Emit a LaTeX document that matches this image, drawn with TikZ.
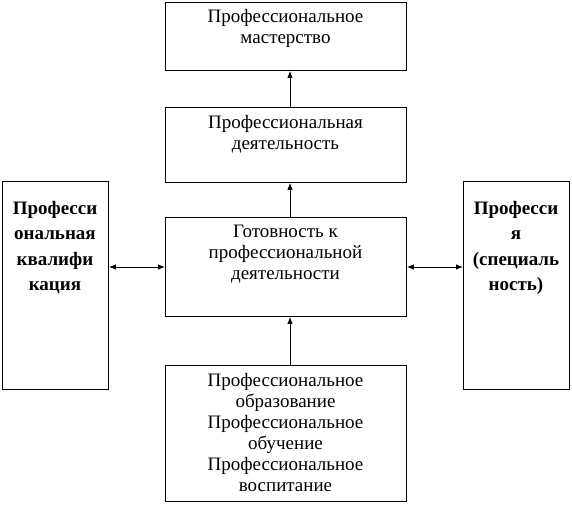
\documentclass[tikz,border=0pt]{standalone}
\usepackage{fontspec}
\setmainfont{Liberation Serif}
\usetikzlibrary{arrows.meta}
\begin{document}
\begin{tikzpicture}[x=1pt,y=-1pt,
  box/.style={draw,line width=0.9pt,inner sep=0pt,anchor=north west},
  txt/.style={align=center,inner sep=0pt,font=\fontsize{19}{21}\selectfont},
  btxt/.style={align=center,inner sep=0pt,font=\fontsize{19}{25.5}\selectfont\bfseries},
  arr/.style={line width=0.9pt,-{Latex[length=7pt,width=5.5pt]}},
  darr/.style={line width=0.9pt,{Latex[length=7pt,width=5.5pt]}-{Latex[length=7pt,width=5.5pt]}}]
\useasboundingbox (0,0) rectangle (572,505);
\node[box,minimum width=241,minimum height=68] (top) at (165,2) {};
\node[box,minimum width=241,minimum height=75] (act) at (165,107) {};
\node[box,minimum width=241,minimum height=99] (ready) at (165,217) {};
\node[box,minimum width=241,minimum height=136] (edu) at (165,365) {};
\node[box,minimum width=106,minimum height=208] (qual) at (2,181) {};
\node[box,minimum width=106,minimum height=208] (prof) at (463,181) {};
\node[txt,anchor=north] (topt) at (285.5,9) {Профессиональное\\мастерство};
\node[txt,anchor=north] (actt) at (285.5,115) {Профессиональная\\деятельность};
\node[txt,anchor=north] (readyt) at (285.5,225) {Готовность к\\профессиональной\\деятельности};
\node[txt,anchor=north] (edut) at (285.5,373) {Профессиональное\\образование\\Профессиональное\\обучение\\Профессиональное\\воспитание};
\node[btxt,anchor=north] (qualt) at (55,201) {Професси\\ональная\\квалифи\\кация};
\node[btxt,anchor=north] (proft) at (516,201) {Професси\\я\\(специаль\\ность)};
\coordinate (ax) at (290,0);
\draw[arr] (edu.north -| ax) -- (ready.south -| ax);
\draw[arr] (ready.north -| ax) -- (act.south -| ax);
\draw[arr] (act.north -| ax) -- (top.south -| ax);
\draw[darr] (qual.east |- 0,267) -- (ready.west |- 0,267);
\draw[darr] (ready.east |- 0,267) -- (prof.west |- 0,267);
\end{tikzpicture}
\end{document}
